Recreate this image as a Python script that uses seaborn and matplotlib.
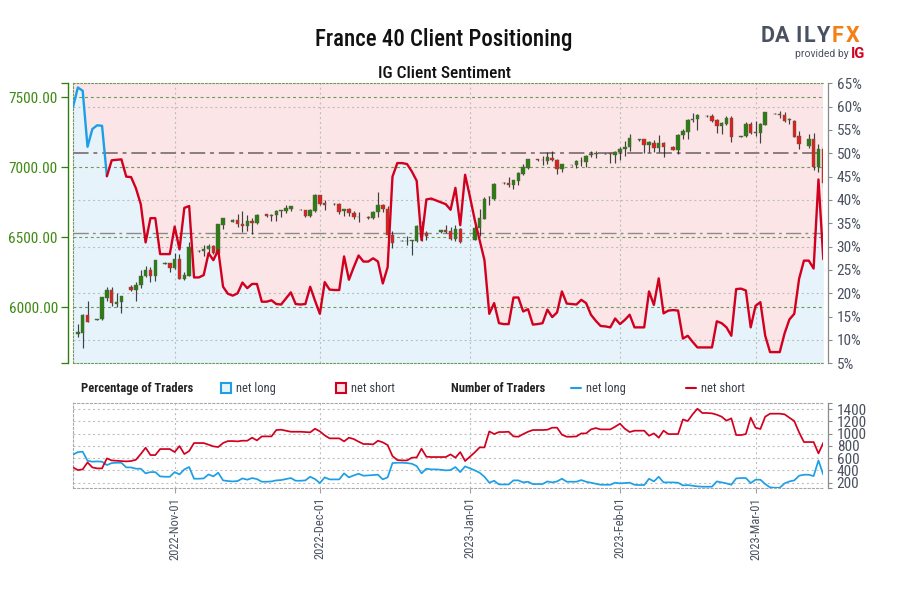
import numpy as np
import pandas as pd
import seaborn as sns
import matplotlib
matplotlib.use("Agg")
import matplotlib.pyplot as plt
import matplotlib.dates as mdates
from matplotlib.patches import Rectangle
from matplotlib.lines import Line2D

sns.set_theme(style="white")
NARROW = ['Roboto Condensed', 'Roboto', 'DejaVu Sans']
plt.rcParams['font.family'] = NARROW

dates = pd.date_range('2022-10-11', periods=156, freq='D')

pct_long = [59.9,64.1,63.4,51.4,55.2,56,55.9,45.1,48.5,48.6,48.7,45,44.9,42.5,39.1,30.9,36.1,36.1,28.4,28.4,
 28.4,34.3,29.4,38.3,38.7,23.4,23.4,23.9,28.6,27.1,29.3,21.4,19.9,19.5,20,22.3,21.1,22,22,18.2,
 18.2,18.5,17.7,17.6,18.9,20.2,17.7,17.6,17.7,21.4,18.4,15.6,22.4,20.8,20.7,20.7,27.9,22.9,25.6,28.1,
 26.8,26.8,27.5,26.8,22.1,25.6,45,47.9,47.9,47.7,46.1,44.1,31.4,40.1,40.3,39.9,39.5,39.1,37.9,42.6,
 34.6,45.4,40.7,35.7,31.4,27.1,15.6,17.9,13.6,13.4,13.4,19.1,19.1,16.1,16.6,13.3,13.4,13.6,16.5,14.9,
 15.9,20.4,17.8,17.7,17.6,18.6,17.9,15.4,14.1,13,12.9,12.7,14.6,13.4,14.3,15.4,12.7,12.7,12.7,20.4,
 17.5,23.2,15.7,16.3,16.4,16.3,10.3,10.9,9.6,8.4,8.4,8.4,8.4,14,13.6,12.7,10.9,20.9,21,20.6,
 12.7,17.3,18.1,10.9,7.4,7.4,7.4,11.4,14.4,15.6,23.1,27,27,25.3,44.4,27.3]

traders_short = [449,406,417,531,449,433,433,596,563,558,553,547,553,574,667,770,650,650,748,748,
 748,699,797,667,716,846,846,846,819,792,781,846,878,878,873,884,884,933,889,954,
 954,954,1058,1063,1047,1030,1030,1030,1025,1020,1079,1036,971,922,922,922,873,933,911,868,
 830,830,824,884,857,813,634,569,563,563,607,612,754,623,618,618,618,618,661,607,
 699,553,623,694,775,775,1036,992,1025,1025,1030,954,949,992,1030,1058,1058,1058,1063,1096,
 1096,982,949,949,954,1003,1003,1068,1090,1068,1068,1068,1112,1161,1079,1025,1047,1047,1047,965,
 1003,933,1047,992,992,992,1231,1204,1313,1405,1335,1335,1329,1307,1275,1210,1248,976,976,992,
 1259,1096,1074,1275,1324,1324,1324,1313,1259,1204,1020,862,862,862,677,851]

traders_long = [656,699,705,558,542,547,542,487,520,525,525,449,449,428,428,352,373,373,303,297,
 297,373,335,417,455,265,265,270,335,303,363,238,227,221,227,270,249,276,259,216,
 216,221,238,243,259,276,232,232,238,297,259,194,287,254,254,254,352,287,319,346,
 314,319,325,330,254,287,520,525,525,520,509,471,352,428,417,417,411,401,406,455,
 373,466,433,401,363,297,200,232,172,172,172,238,238,205,216,178,178,178,221,205,
 221,265,216,216,216,243,216,200,183,167,167,167,200,189,194,200,167,162,162,265,
 221,297,205,205,205,200,156,162,151,140,135,135,135,221,205,189,167,270,276,276,
 194,249,249,178,124,118,118,189,221,238,314,330,330,308,563,330]

candle_day = [1,2,3,5,6,7,8,9,10,12,13,14,15,16,17,19,20,21,22,23,24,26,27,28,29,30,31,33,34,35,36,37,38,40,41,42,43,44,45,47,
 48,49,50,51,52,54,55,56,57,58,59,61,62,63,64,65,66,68,69,70,71,72,73,76,77,78,79,80,83,84,85,86,87,89,90,91,92,93,94,96,
 97,98,99,100,101,103,104,105,106,107,108,110,111,112,113,114,115,117,118,119,120,121,122,124,125,126,127,128,129,131,132,133,134,135,136,138,139,140,141,142,
 143,145,146,147,148,149,150,152,153,154,155]
candle_open = [5807,5819,5945,5909,5917,6069,6124,6026,6036,6143,6126,6160,6221,6264,6226,6312,6314,6279,6343,6202,6226,6400,6402,6417,6438,6388,6590,6612,6624,6598,6583,6614,6602,6664,6655,6657,6690,6686,6705,6695,
 6693,6652,6688,6800,6743,6740,6738,6688,6705,6676,6648,6648,6636,6681,6729,6700,6519,6474,6471,6474,6474,6583,6529,6536,6552,6543,6490,6562,6483,6564,6633,6786,6771,6890,6888,6876,6905,6952,6993,7060,
 7052,7048,7067,7055,6988,7015,7014,7045,7040,7090,7093,7095,7100,7090,7110,7131,7143,7198,7200,7160,7174,7138,7171,7145,7124,7229,7255,7338,7345,7369,7364,7336,7298,7309,7350,7219,7221,7309,7247,7248,
 7302,7380,7383,7371,7336,7331,7224,7150,7202,7000,7131]
candle_close = [5824,5945,5898,5917,6071,6124,6033,6038,6079,6124,6162,6221,6264,6224,6336,6319,6281,6343,6205,6229,6431,6405,6417,6440,6390,6593,6636,6626,6593,6583,6614,6600,6660,6650,6657,6690,6693,6707,6721,6698,
 6655,6693,6802,6738,6731,6736,6683,6700,6671,6648,6645,6636,6683,6729,6705,6517,6462,6476,6476,6479,6583,6505,6512,6550,6538,6488,6557,6464,6564,6636,6776,6788,6881,6886,6876,6907,6960,7005,7057,7050,
 7055,7071,7052,6990,7024,7017,7048,7048,7081,7095,7100,7097,7093,7112,7133,7145,7209,7202,7162,7179,7140,7171,7148,7126,7231,7257,7338,7345,7376,7364,7331,7298,7314,7355,7219,7224,7307,7245,7252,7307,
 7393,7383,7376,7331,7343,7219,7169,7205,7005,7133,6886]
candle_high = [5879,5950,6048,5917,6076,6148,6143,6105,6081,6160,6179,6267,6293,6290,6338,6324,6319,6386,6381,6255,6469,6407,6445,6455,6448,6598,6640,6629,6664,6686,6657,6636,6664,6667,6667,6695,6695,6731,6726,6700,
 6695,6700,6807,6805,6767,6743,6743,6705,6710,6686,6683,6650,6686,6826,6738,6724,6545,6479,6512,6481,6588,6619,6545,6553,6586,6576,6588,6567,6595,6700,6790,6795,6886,6893,6929,6910,6964,7021,7060,7062,
 7081,7112,7119,7057,7026,7019,7052,7071,7086,7119,7117,7100,7103,7117,7145,7188,7236,7205,7205,7188,7193,7229,7183,7150,7236,7274,7343,7390,7381,7372,7381,7345,7326,7364,7369,7226,7326,7326,7331,7317,
 7395,7386,7405,7398,7352,7336,7260,7236,7243,7167,7150]
candle_low = [5790,5707,5893,5907,5909,6048,6009,6005,5957,6119,6045,6136,6219,6181,6186,6307,6250,6274,6200,6198,6224,6398,6369,6386,6381,6383,6560,6610,6576,6540,6548,6524,6598,6647,6619,6619,6643,6676,6690,6693,
 6645,6648,6683,6733,6693,6733,6669,6652,6655,6633,6612,6633,6633,6645,6681,6505,6421,6471,6445,6376,6469,6476,6481,6533,6533,6483,6476,6457,6481,6512,6631,6733,6767,6883,6857,6848,6874,6945,6988,7048,
 7019,7024,7048,6950,6969,7012,6998,7010,7002,7071,7067,7093,7033,7029,7052,7083,7114,7186,7100,7112,7112,7112,7076,7124,7095,7202,7200,7324,7269,7362,7321,7243,7236,7302,7183,7217,7219,7238,7224,7171,
 7300,7378,7352,7321,7307,7214,7131,7136,6981,6969,6862]

month_ticks = ['2022-11-01', '2022-12-01', '2023-01-01', '2023-02-01', '2023-03-01']
price_ticks = [6000, 6500, 7000, 7500]
pct_ticks = [5, 10, 15, 20, 25, 30, 35, 40, 45, 50, 55, 60, 65]
pct_grid = [10, 20, 30, 40, 60]
count_ticks = [200, 400, 600, 800, 1000, 1200, 1400]

W, H = 900, 600
def rect(x0, y0, x1, y1):
    return [x0 / W, 1 - y1 / H, (x1 - x0) / W, (y1 - y0) / H]

BLUE, RED = '#1c9fe6', '#d2001e'
FILL_B, FILL_R = '#e6f3fb', '#fbe5e6'
GREEN_T, GREY_T = '#3f8a12', '#4a5160'
GRID_G, GRID_N = '#6f9a55', '#bdbdbd'
TICK_FS = 8.8
DOT = (0, (1.8, 2.6))

fig = plt.figure(figsize=(9, 6), dpi=100, facecolor='white')
frame = rect(73, 83.3, 823.3, 363.3)
xlim = (mdates.date2num(dates[0]), mdates.date2num(dates[-1]))
month_dt = pd.to_datetime(month_ticks)

# --- background: sentiment fill and neutral grid
ax_bg = fig.add_axes(frame, zorder=1)
ax_bg.set_facecolor(FILL_R)
ax_bg.fill_between(dates, pct_long, 5, color=FILL_B, lw=0, zorder=1)
ax_bg.set_ylim(5, 65)
ax_bg.set_xlim(*xlim)
for v in pct_grid:
    ax_bg.axhline(v, color=GRID_N, lw=0.8, ls=DOT, zorder=2)
for d in month_dt:
    ax_bg.axvline(d, color=GRID_N, lw=0.8, ls=DOT, zorder=2)
ax_bg.axhline(50, color='#8a7d7d', lw=1.4, ls=(0, (8, 2.5, 2, 2.5)), zorder=3)
ax_bg.axhline(33, color='#8f8a8a', lw=1.0, ls=(0, (11, 3, 2, 3)), zorder=3)
ax_bg.axvline(xlim[1], color=GRID_N, lw=0.8, ls=DOT, zorder=2)
ax_bg.set_xticks([])
ax_bg.yaxis.tick_right()
ax_bg.set_yticks(pct_ticks)
ax_bg.set_yticklabels([f'{v}%' for v in pct_ticks], fontsize=TICK_FS)
ax_bg.tick_params(axis='y', length=3, width=0.8, color='#8a8a8a', labelcolor=GREY_T, pad=3, right=True, left=False)
for s in ['top', 'bottom', 'left']:
    ax_bg.spines[s].set(color=GRID_G, lw=0.8, ls=(0, (1.5, 1.8)))
sr = ax_bg.spines['right']
sr.set_position(('outward', 3.6))
sr.set(color='#8a8a8a', lw=0.9, ls='-')

# --- candles on the price scale
ax_p = fig.add_axes(frame, zorder=2, sharex=ax_bg)
ax_p.patch.set_alpha(0)
ax_p.set_ylim(5600, 7600)
for v in price_ticks:
    ax_p.axhline(v, color=GRID_G, lw=0.8, ls=(0, (2.6, 2.6)), zorder=1)
cd = dates[np.array(candle_day)]
co, cc = np.array(candle_open), np.array(candle_close)
ax_p.vlines(cd, candle_low, candle_high, color='#222222', lw=0.85, alpha=.85, zorder=2)
up = cc >= co
col = np.where(up, '#2e7d12', '#e0201f')
ax_p.bar(cd, np.abs(cc - co), bottom=np.minimum(co, cc), width=0.72, color=col,
         edgecolor='#55604f', linewidth=0.3, zorder=3)
ax_p.set_yticks([5600] + price_ticks + [7600])
ax_p.set_yticklabels([''] + [f'{v:.2f}' for v in price_ticks] + [''], fontsize=TICK_FS)
ax_p.tick_params(axis='y', length=4.8, width=0.9, color='#2f7d0c', labelcolor=GREEN_T, pad=2.7, left=True, right=False)
ax_p.tick_params(axis='x', bottom=False, labelbottom=False)
for s in ['top', 'bottom', 'right']:
    ax_p.spines[s].set_visible(False)
ax_p.spines['left'].set_position(('outward', 3.4))
ax_p.spines['left'].set(color='#2f7d0c', lw=1)

# --- sentiment line
ax_l = fig.add_axes(frame, zorder=3, sharex=ax_bg)
ax_l.patch.set_alpha(0)
ax_l.set_axis_off()
df = pd.DataFrame({'date': dates, 'pct': pct_long})
sns.lineplot(data=df.iloc[:8], x='date', y='pct', color=BLUE, lw=1.7, ax=ax_l, errorbar=None)
sns.lineplot(data=df.iloc[7:], x='date', y='pct', color=RED, lw=1.7, ax=ax_l, errorbar=None)
ax_l.set_ylim(5, 65)
ax_l.set_xlim(*xlim)

# --- lower panel
ax_c = fig.add_axes(rect(73, 403.3, 823.3, 488.3), zorder=1)
ax_c.set_facecolor('white')
tr = pd.DataFrame({'date': dates, 'long': traders_long, 'short': traders_short})
for v in count_ticks:
    ax_c.axhline(v, color=GRID_N, lw=0.8, ls=DOT, zorder=1)
for d in month_dt:
    ax_c.axvline(d, color=GRID_N, lw=0.8, ls=DOT, zorder=1)
ax_c.axvline(xlim[1], color=GRID_N, lw=0.8, ls=DOT, zorder=1)
sns.lineplot(data=tr, x='date', y='long', color=BLUE, lw=1.25, ax=ax_c, errorbar=None, zorder=3)
sns.lineplot(data=tr, x='date', y='short', color=RED, lw=1.25, ax=ax_c, errorbar=None, zorder=3)
ax_c.set_xlim(*xlim)
ax_c.set_ylim(109, 1493)
ax_c.set_xlabel('')
ax_c.set_ylabel('')
ax_c.yaxis.tick_right()
ax_c.set_yticks([109] + count_ticks + [1493])
ax_c.set_yticklabels([''] + [str(v) for v in count_ticks] + [''], fontsize=TICK_FS)
ax_c.tick_params(axis='y', length=3, width=0.8, color='#8a8a8a', labelcolor=GREY_T, pad=3, right=True, left=False)
ax_c.set_xticks(month_dt)
ax_c.set_xticklabels([d.strftime('%Y-%b-%d') for d in month_dt], rotation=90, fontsize=9)
ax_c.tick_params(axis='x', length=3.6, width=0.8, color='#a0a0a0', labelcolor=GREY_T, pad=2.5, bottom=True)
for s in ['top', 'left', 'bottom']:
    ax_c.spines[s].set(color='#a8a8a8', lw=0.8, ls=(0, (1.8, 2)))
ax_c.spines['right'].set_position(('outward', 3.6))
ax_c.spines['right'].set(color='#8a8a8a', lw=0.9)

# --- titles
def ftext(x, y, s, **kw):
    kw.setdefault('va', 'center')
    return fig.text(x / W, 1 - y / H, s, **kw)

ftext(444, 39.5, 'France 40 Client Positioning', ha='center', fontsize=16.5, fontweight='medium', color='#111111')
ftext(444, 73, 'IG Client Sentiment', ha='center', fontsize=12.5, fontweight='medium', color='#111111')

# --- legend row
ftext(81, 388.5, 'Percentage of Traders', fontsize=9, fontweight='bold', color='#222222')
ftext(451, 388.5, 'Number of Traders', fontsize=9, fontweight='bold', color='#222222')
for x, ec, fc in [(221, BLUE, FILL_B), (336, RED, FILL_R)]:
    fig.add_artist(Rectangle((x / W, 1 - 393 / H), 10 / W, 10 / H, transform=fig.transFigure,
                             ec=ec, fc=fc, lw=1.5))
for x, c in [(571, BLUE), (686, RED)]:
    fig.add_artist(Line2D([x / W, (x + 10) / W], [1 - 388 / H] * 2, transform=fig.transFigure, color=c, lw=1.5))
for x, s in [(236, 'net long'), (351, 'net short'), (586, 'net long'), (701, 'net short')]:
    ftext(x, 388.5, s, fontsize=9, color='#3a3f4a')

# --- logo
LOGO = ['Roboto', 'DejaVu Sans']
for x, ch, c in zip([761, 775, 795, 804, 816, 832, 846], 'DAILYFX',
                    ['#4a5160'] * 5 + ['#f57f17'] * 2):
    ftext(x, 36, ch, fontsize=15.5, fontweight='bold', color=c, family=LOGO)
ftext(795, 54, 'provided by', fontsize=7.5, color='#4a5160', family=LOGO)
ftext(851, 54, 'IG', fontsize=10.5, fontweight='bold', color='#d2001e', family=LOGO)

fig.savefig('out.png', dpi=100, facecolor='white')
